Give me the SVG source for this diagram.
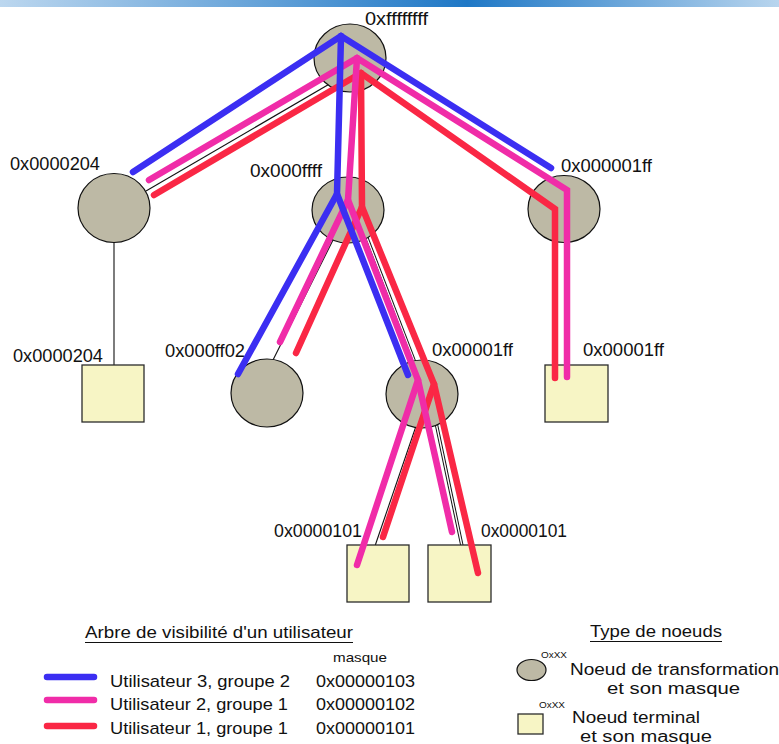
<svg xmlns="http://www.w3.org/2000/svg" width="779" height="744" viewBox="0 0 779 744">
<defs>
<linearGradient id="bar" x1="0" y1="0" x2="1" y2="0">
<stop offset="0" stop-color="#bcd7ef"/>
<stop offset="0.6" stop-color="#1f78c6"/>
<stop offset="1" stop-color="#b8d5ee"/>
</linearGradient>
<style>
.t{font-family:"Liberation Sans",Arial,sans-serif;fill:#111}
.lbl{font-size:17.5px}
.leg{font-size:17px}
.leg2{font-size:16px}
.small{font-size:9px}
.circ{fill:#bdb9a5;stroke:#111;stroke-width:1.2}
.term{fill:#f7f5c5;stroke:#2b2b2b;stroke-width:1.3}
.edge{fill:none;stroke:#111;stroke-width:1.1}
.dbl{fill:none;stroke:#111;stroke-width:3.4}
.dblw{fill:none;stroke:#fff;stroke-width:1.4}
.u{fill:none;stroke-width:6.5;stroke-linecap:round;stroke-linejoin:miter}
.blue{stroke:#3b2ef2}
.pink{stroke:#f02ca8}
.red{stroke:#fa2745}
</style>
</defs>
<rect x="0" y="0" width="779" height="7" fill="url(#bar)"/>

<g id="connectors">
<line class="edge" x1="146" y1="191" x2="350" y2="72"/>
<line class="edge" x1="114" y1="240" x2="114" y2="366"/>
<path class="edge" d="M356,58 L348,200"/>
<path class="edge" d="M357,58 L567,190"/>
<line class="edge" x1="348" y1="210" x2="272" y2="362"/>
<line class="dbl" x1="357" y1="212" x2="427" y2="394"/>
<line class="dblw" x1="357" y1="212" x2="427" y2="394"/>
<line class="edge" x1="427" y1="394" x2="375" y2="546"/>
<line class="dbl" x1="430" y1="394" x2="462" y2="546"/>
<line class="dblw" x1="430" y1="394" x2="462" y2="546"/>
</g>

<g id="n-root"><ellipse class="circ" cx="350" cy="58" rx="36" ry="34"/><text class="t lbl" x="365" y="25" textLength="63" lengthAdjust="spacingAndGlyphs">0xffffffff</text></g>
<g id="n-204"><ellipse class="circ" cx="114" cy="208" rx="36" ry="34.5"/><text class="t lbl" x="10" y="170" textLength="90" lengthAdjust="spacingAndGlyphs">0x0000204</text></g>
<g id="n-ffff"><ellipse class="circ" cx="348" cy="210" rx="36" ry="33"/><text class="t lbl" x="250" y="177" textLength="72" lengthAdjust="spacingAndGlyphs">0x000ffff</text></g>
<g id="n-1ff"><ellipse class="circ" cx="564" cy="209" rx="36" ry="33.5"/><text class="t lbl" x="561" y="172" textLength="91" lengthAdjust="spacingAndGlyphs">0x000001ff</text></g>
<g id="t-204"><rect class="term" x="82" y="365" width="62" height="57"/><text class="t lbl" x="13" y="362" textLength="90" lengthAdjust="spacingAndGlyphs">0x0000204</text></g>
<g id="n-ff02"><ellipse class="circ" cx="267" cy="393" rx="36" ry="34"/><text class="t lbl" x="165" y="357" textLength="80" lengthAdjust="spacingAndGlyphs">0x000ff02</text></g>
<g id="n-01ff"><ellipse class="circ" cx="422" cy="394" rx="36" ry="34"/><text class="t lbl" x="432" y="356" textLength="81" lengthAdjust="spacingAndGlyphs">0x00001ff</text></g>
<g id="t-01ff"><rect class="term" x="545" y="365" width="63" height="57"/><text class="t lbl" x="583" y="356" textLength="81" lengthAdjust="spacingAndGlyphs">0x00001ff</text></g>
<g id="t-101a"><rect class="term" x="347" y="545" width="62" height="57"/><text class="t lbl" x="274" y="537" textLength="88" lengthAdjust="spacingAndGlyphs">0x0000101</text></g>
<g id="t-101b"><rect class="term" x="428" y="545" width="63" height="57"/><text class="t lbl" x="481" y="537" textLength="86" lengthAdjust="spacingAndGlyphs">0x0000101</text></g>

<g id="user-paths">
<g>
<path class="u red" d="M154,195 L361,73 L555,209 L555,378"/>
<path class="u red" d="M361,73 L362,207 L296,353"/>
<path class="u red" d="M362,207 L434,384 L383,537"/>
<path class="u red" d="M434,384 L478,573"/>
</g>
<g>
<path class="u pink" d="M149,180 L357,58 L567,190 L567,377"/>
<path class="u pink" d="M357,58 L348,200 L280,342"/>
<path class="u pink" d="M348,200 L418,380 L357,565"/>
<path class="u pink" d="M418,380 L452,532"/>
</g>
<g>
<path class="u blue" d="M133,172 L341,36 L551,168"/>
<path class="u blue" d="M341,36 L337,194 L238,374"/>
<path class="u blue" d="M337,194 L408,375"/>
</g>
</g>

<g id="legend-users">
<text class="t" x="85" y="638" font-size="16.5" textLength="268" lengthAdjust="spacingAndGlyphs">Arbre de visibilité d'un utilisateur</text>
<line x1="85" y1="642.5" x2="353" y2="642.5" stroke="#111" stroke-width="1.2"/>
<text class="t" x="333" y="662" font-size="13" textLength="54" lengthAdjust="spacingAndGlyphs">masque</text>
<line class="u blue" x1="47" y1="677" x2="94" y2="677"/>
<line class="u pink" x1="47" y1="700" x2="94" y2="700"/>
<line class="u red" x1="47" y1="726" x2="94" y2="726"/>
<text class="t leg" x="110" y="687" textLength="180" lengthAdjust="spacingAndGlyphs">Utilisateur 3, groupe 2</text>
<text class="t leg" x="110" y="710" textLength="178" lengthAdjust="spacingAndGlyphs">Utilisateur 2, groupe 1</text>
<text class="t leg" x="110" y="734" textLength="178" lengthAdjust="spacingAndGlyphs">Utilisateur 1, groupe 1</text>
<text class="t leg" x="316" y="687" textLength="99" lengthAdjust="spacingAndGlyphs">0x00000103</text>
<text class="t leg" x="316" y="710" textLength="99" lengthAdjust="spacingAndGlyphs">0x00000102</text>
<text class="t leg" x="316" y="734" textLength="99" lengthAdjust="spacingAndGlyphs">0x00000101</text>
</g>

<g id="legend-types">
<text class="t" x="590" y="637" font-size="16.5" textLength="132" lengthAdjust="spacingAndGlyphs">Type de noeuds</text>
<line x1="590" y1="641.5" x2="722" y2="641.5" stroke="#111" stroke-width="1.2"/>
<ellipse class="circ" cx="531.5" cy="670" rx="14.5" ry="10.5"/>
<text class="t small" x="541" y="658" textLength="26" lengthAdjust="spacingAndGlyphs">OxXX</text>
<text class="t leg2" x="570" y="675" textLength="209" lengthAdjust="spacingAndGlyphs">Noeud de transformation</text>
<text class="t leg2" x="607" y="694" textLength="133" lengthAdjust="spacingAndGlyphs">et son masque</text>
<rect class="term" x="518" y="714" width="25" height="20"/>
<text class="t small" x="539" y="708" textLength="26" lengthAdjust="spacingAndGlyphs">OxXX</text>
<text class="t leg2" x="572" y="723" textLength="128" lengthAdjust="spacingAndGlyphs">Noeud terminal</text>
<text class="t leg2" x="580" y="742" textLength="132" lengthAdjust="spacingAndGlyphs">et son masque</text>
</g>
</svg>
